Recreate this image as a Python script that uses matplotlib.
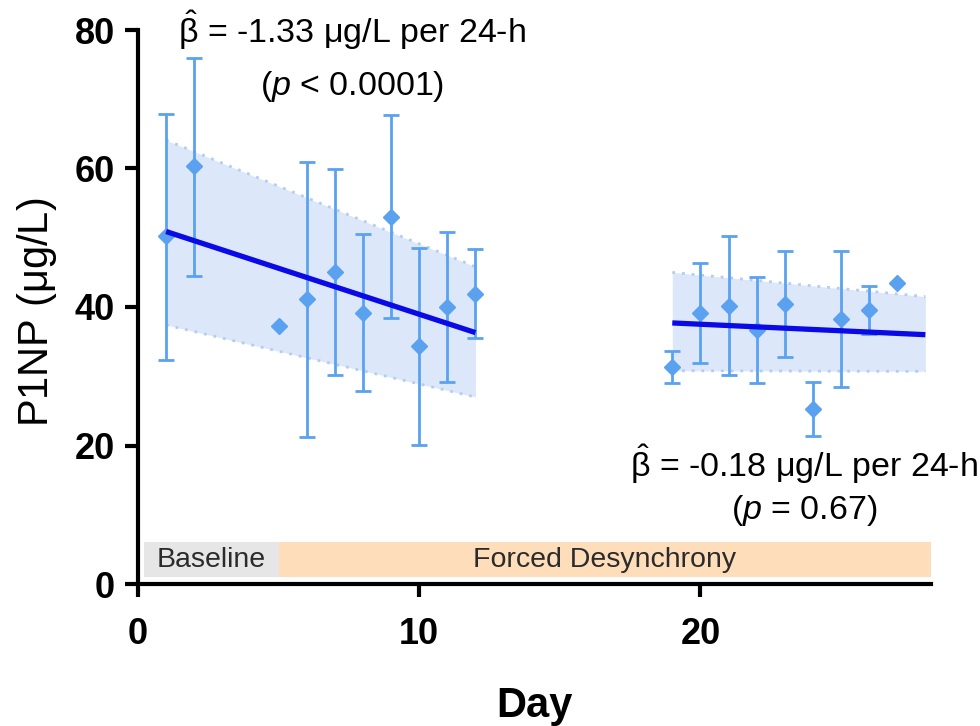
import numpy as np
import matplotlib
matplotlib.use("Agg")
import matplotlib.pyplot as plt

plt.rcParams["font.family"] = ["Liberation Sans", "DejaVu Sans"]
plt.rcParams["mathtext.fontset"] = "custom"
plt.rcParams["mathtext.rm"] = "Liberation Sans"
plt.rcParams["mathtext.it"] = "Liberation Sans:italic"

# ---- data ----
days_a = [1, 2, 5, 6, 7, 8, 9, 10, 11, 12]
mean_a = [50.2, 60.3, 37.2, 41.1, 45.1, 39.1, 53.0, 34.3, 40.0, 41.9]
low_a = [32.3, 44.5, np.nan, 21.2, 30.2, 27.9, 38.4, 20.1, 29.1, 35.5]
high_a = [67.9, 76.0, np.nan, 61.0, 59.9, 50.5, 67.7, 48.5, 50.9, 48.4]

days_b = [19, 20, 21, 22, 23, 24, 25, 26, 27]
mean_b = [31.4, 39.1, 40.1, 36.7, 40.4, 25.3, 38.3, 39.6, 43.4]
low_b = [29.0, 31.9, 30.2, 29.0, 32.8, 21.4, 28.5, 36.1, np.nan]
high_b = [33.7, 46.3, 50.2, 44.4, 48.1, 29.2, 48.1, 43.0, np.nan]

# fitted trend + band (start/end day, fit, lower, upper)
fit_days_a = [1, 12]
fit_a = [50.9, 36.3]
fit_lo_a = [37.4, 27.0]
fit_hi_a = [64.1, 45.8]

fit_days_b = [19, 28]
fit_b = [37.7, 36.0]
fit_lo_b = [30.8, 30.7]
fit_hi_b = [45.0, 41.5]

phases = ["Baseline", "Forced Desynchrony"]
phase_start = [0.2, 5.0]
phase_end = [5.0, 28.2]
phase_colors = ["#E6E6E6", "#FDDDBA"]

PT_COL = "#5AA2F0"
FIT_COL = "#0A0AE6"
BAND_COL = "#DCE8FA"
BAND_EDGE = "#B3CDF2"

fig = plt.figure(figsize=(9.8, 7.26), dpi=100)
ax = fig.add_axes([138 / 980, 1 - 584 / 726, 793 / 980, 554 / 726])


def segment(days, mean, lo, hi, fd, fit, flo, fhi):
    ax.fill_between(fd, flo, fhi, color=BAND_COL, lw=0, zorder=1)
    ax.plot(fd, flo, ls=(0, (1, 2.5)), color=BAND_EDGE, lw=2.0, zorder=1)
    ax.plot(fd, fhi, ls=(0, (1, 2.5)), color=BAND_EDGE, lw=2.0, zorder=1)
    m = np.array(mean)
    yerr = [m - np.array(lo), np.array(hi) - m]
    ax.errorbar(days, mean, yerr=yerr, fmt="D", color=PT_COL, ms=8.5,
                mec=PT_COL, ecolor=PT_COL, elinewidth=2, capsize=5.5,
                capthick=2, zorder=3)
    ax.plot(fd, fit, color=FIT_COL, lw=3.8, zorder=4, solid_capstyle="butt")


segment(days_a, mean_a, low_a, high_a, fit_days_a, fit_a, fit_lo_a, fit_hi_a)
segment(days_b, mean_b, low_b, high_b, fit_days_b, fit_b, fit_lo_b, fit_hi_b)

# phase bars along the bottom
for name, x0, x1, col in zip(phases, phase_start, phase_end, phase_colors):
    ax.broken_barh([(x0, x1 - x0)], (1.0, 5.1), color=col, lw=0, zorder=0.5)
    ax.text((x0 + x1) / 2, 3.5, name, ha="center", va="center",
            fontsize=20.5, color="#2b2b2b", zorder=2)

# slope annotations
beta = r"$\hat{\mathrm{\beta}}$"
ax.text(7.6, 80.0, beta + r" = -1.33 $\mathrm{\mu}$g/L per 24-h",
        ha="center", va="center", fontsize=24.5, clip_on=False)
ax.text(7.6, 71.8, r"($\it{p}$ < 0.0001)", ha="center", va="center",
        fontsize=24.5, clip_on=False)
ax.text(23.7, 17.3, beta + r" = -0.18 $\mathrm{\mu}$g/L per 24-h",
        ha="center", va="center", fontsize=24.5, clip_on=False)
ax.text(23.7, 10.6, r"($\it{p}$ = 0.67)", ha="center", va="center",
        fontsize=24.5, clip_on=False)

ax.set_xlim(0, 28.2)
ax.set_ylim(0, 80)
ax.set_xticks([0, 10, 20])
ax.set_yticks([0, 20, 40, 60, 80])
for s in ("top", "right"):
    ax.spines[s].set_visible(False)
for s in ("left", "bottom"):
    ax.spines[s].set_linewidth(3.0)
ax.tick_params(direction="out", length=9.5, width=3.0, labelsize=26)
ax.tick_params(axis="x", pad=14)
ax.tick_params(axis="y", pad=7)
for lab in ax.get_xticklabels() + ax.get_yticklabels():
    lab.set_fontweight("bold")

ax.set_ylabel("P1NP ($\\mathrm{\\mu}$g/L)", fontsize=30)
ax.yaxis.set_label_coords(-0.099, 0.49)
ax.set_xlabel("Day", fontsize=30, fontweight="bold")
ax.xaxis.set_label_coords(0.5, -0.185)

fig.savefig("out.png", dpi=100, facecolor="white")
